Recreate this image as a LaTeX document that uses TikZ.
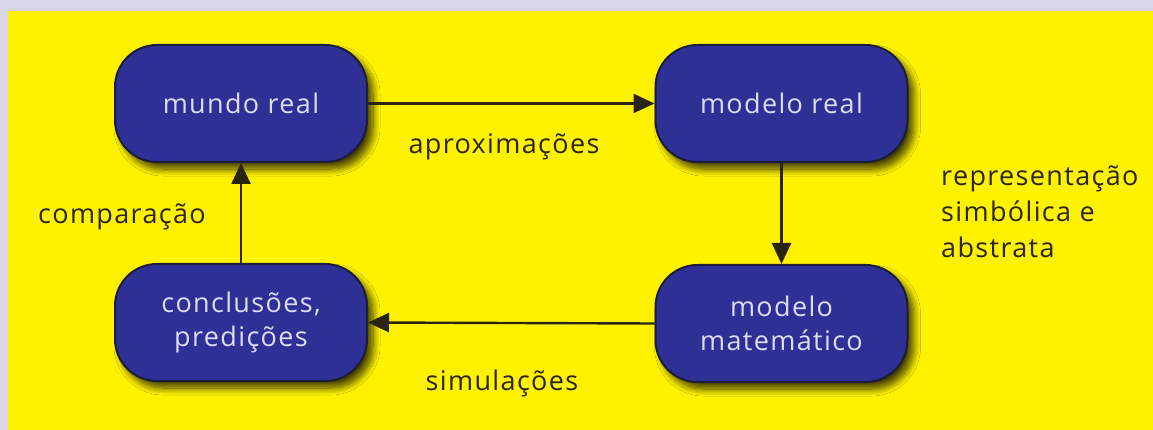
\documentclass[tikz,border=0pt]{standalone}
\usepackage{fontspec}
\setmainfont[LetterSpace=5]{Open Sans}
\usetikzlibrary{arrows.meta,shadows.blur}
\definecolor{bg}{HTML}{D8D5E9}
\definecolor{yel}{HTML}{FFF200}
\definecolor{boxfill}{HTML}{2E3095}
\definecolor{boxline}{HTML}{1C1C3C}
\definecolor{boxtext}{HTML}{DCDCF4}
\definecolor{ink}{HTML}{2A2410}
\begin{document}
\begin{tikzpicture}[x=1pt,y=-1pt,
  stage/.style={draw=boxline, line width=2pt, fill=boxfill, rounded corners=42pt,
    minimum width=252pt, minimum height=117pt, text=boxtext,
    font=\fontsize{27}{34}\selectfont, align=center, inner sep=0pt,
    blur shadow={shadow xshift=6pt, shadow yshift=-7pt, shadow blur radius=7pt, shadow opacity=75, shadow blur steps=10}},
  lbl/.style={text=ink, font=\fontsize{27}{36}\selectfont, inner sep=0pt},
  link/.style={draw=ink, line width=2.4pt, -{Triangle[length=21pt,width=19pt]}}]
\fill[bg] (0,0) rectangle (1153,430);
\fill[yel] (8,11) rectangle (1153,430);
\useasboundingbox (0,0) rectangle (1153,430);
\node[stage] (mr) at (241,103.5) {mundo real};
\node[stage] (mo) at (781.5,103.5) {modelo real};
\node[stage] (mm) at (781.5,323.5) {modelo\\matemático};
\node[stage] (cp) at (241,322.5) {conclusões,\\predições};
\draw[link] (mr.east) -- (mo.west);
\draw[link] (mo.south) -- (mm.north);
\draw[link] (mm.west) -- (cp.east);
\draw[link] (cp.north) -- (mr.south);
\node[lbl] (ap) at (504,147) {aproximações};
\node[lbl] (co) at (122,217) {comparação};
\node[lbl] (si) at (502,383) {simulações};
\node[lbl, align=left, anchor=north west] (rp) at (941,166) {representação\\simbólica e\\abstrata};
\end{tikzpicture}
\end{document}
